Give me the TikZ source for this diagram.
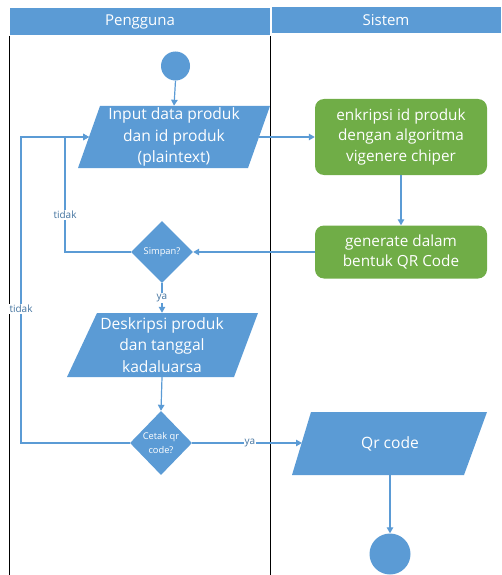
\documentclass[tikz,border=0pt]{standalone}
\usepackage{fontspec}
\setmainfont{Open Sans}
\usetikzlibrary{shapes.geometric,arrows.meta}
\definecolor{flowblue}{HTML}{5B9BD5}
\definecolor{flowgreen}{HTML}{70AD47}
\tikzset{
  lanehead/.style={fill=flowblue},
  headtext/.style={text=white,font=\fontsize{15}{17}\selectfont},
  lane/.style={black,line width=1.5pt},
  flowtext/.style={text=white,font=\fontsize{15.6}{21.5}\selectfont,align=center,inner sep=0pt},
  process/.style={fill=flowgreen,rounded corners=9pt,minimum width=172pt,text=white,
    font=\fontsize{15.3}{20.5}\selectfont,align=center,inner sep=0pt},
  decision/.style={diamond,fill=flowblue,minimum width=62pt,minimum height=62pt,aspect=1,
    inner sep=0pt,text=white,font=\fontsize{9.3}{13.5}\selectfont,align=center},
  terminal/.style={circle,fill=flowblue,inner sep=0pt},
  iobox/.style={fill=flowblue},
  link/.style={flowblue,line width=1.2pt},
  arrowlink/.style={link,-{Triangle[width=6.5pt,length=6pt]}},
  guard/.style={fill=white,inner sep=1pt,text=flowblue!75!black,font=\fontsize{10}{11}\selectfont}
}
\begin{document}
\begin{tikzpicture}[x=1pt,y=-1pt]
\useasboundingbox (0,0) rectangle (501,575);

% swimlane headers
\fill[lanehead] (10,8) rectangle (270,35);
\node[headtext] (hpeng) at (140,21.5) {Pengguna};
\fill[lanehead] (272,7) rectangle (501,33);
\node[headtext] (hsis) at (386,20) {Sistem};

% swimlane borders
\draw[lane] (9.5,36) -- (9.5,575);
\draw[lane] (270.5,36) -- (270.5,575);

% start and end points
\node[terminal,minimum size=29pt] (start) at (175.5,66) {};
\node[terminal,minimum size=41pt] (stop) at (390,554) {};

% input of product data
\fill[iobox] (100,106) -- (270,106) -- (248,168) -- (78,168) -- cycle;
\node[flowtext,minimum width=170pt,minimum height=62pt] (input) at (174,137)
  {Input data produk\\dan id produk\\(plaintext)};
\coordinate (inputL) at (89,137);
\coordinate (inputR) at (259,137);

% system processes
\node[process,minimum height=76pt] (encrypt) at (401,137)
  {enkripsi id produk\\dengan algoritma\\vigenere chiper};
\node[process,minimum height=53pt] (generate) at (401,252)
  {generate dalam\\bentuk QR Code};

% decisions
\node[decision] (save) at (162,252) {Simpan?};
\node[decision,minimum height=64pt] (print) at (161,443) {Cetak qr\\code?};

% product description input
\fill[iobox] (97,313) -- (258,313) -- (234,377) -- (67,377) -- cycle;
\node[flowtext,minimum width=165pt,minimum height=64pt] (desc) at (162,345)
  {Deskripsi produk\\dan tanggal\\kadaluarsa};

% QR code output
\fill[iobox] (311,412) -- (487,412) -- (464,475) -- (292,475) -- cycle;
\node[flowtext,minimum width=172pt,minimum height=63pt] (qr) at (390,443.5) {Qr code};
\coordinate (qrL) at (302,443);

% loop-back corners
\coordinate (innerbot) at (65,252);
\coordinate (innertop) at (65,137);
\coordinate (outerbot) at (21,443);
\coordinate (outertop) at (21,137);

% connectors
\draw[arrowlink] (start.south) -- (input.north);
\draw[arrowlink] (inputR) -- (encrypt.west);
\draw[arrowlink] (encrypt.south) -- (generate.north);
\draw[arrowlink] (generate.west) -- (save.east);
\draw[arrowlink] (save.west) -- (innerbot) -- (innertop) -- (inputL);
\node[guard] (nosave) at (65,215) {tidak};
\draw[arrowlink] (save.south) -- (desc.north);
\node[guard] (yessave) at (162,298) {ya};
\draw[arrowlink] (desc.south) -- (print.north);
\draw[arrowlink] (print.west) -- (outerbot) -- (outertop) -- (inputL);
\node[guard] (noprint) at (21,309) {tidak};
\draw[arrowlink] (print.east) -- (qrL);
\node[guard] (yesprint) at (250,443) {ya};
\draw[arrowlink] (qr.south) -- (stop.north);
\end{tikzpicture}
\end{document}
